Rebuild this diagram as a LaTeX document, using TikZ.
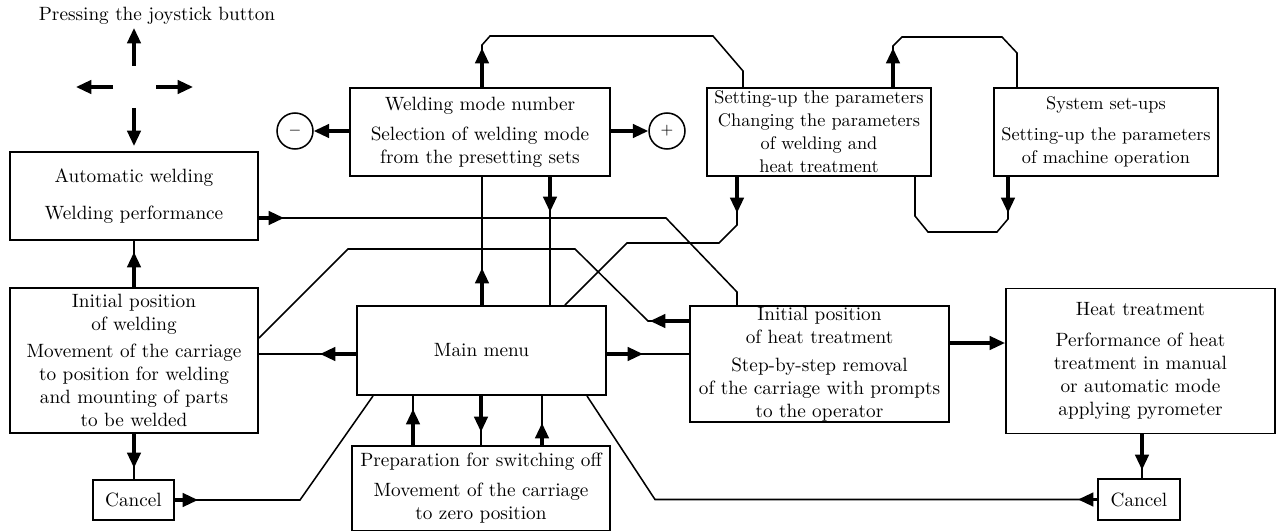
\documentclass[tikz,border=0pt]{standalone}
\usepackage{tikz}
\usetikzlibrary{arrows.meta}
\usepackage{amsmath}

\begin{document}
\begin{tikzpicture}[x=0.52pt,y=-0.52pt,
  block/.style={draw,line width=1pt,align=center,inner sep=0pt},
  narrow/.style={font=\fontsize{9.5}{12}\selectfont},
  wire/.style={line width=0.8pt},
  push/.style={line width=1.6pt,-{Triangle[length=8pt,width=7pt]}},
  sign/.style={draw,circle,line width=0.8pt,minimum size=18.7pt,inner sep=0pt}]

\useasboundingbox (0,0) rectangle (1280,531);

\node(joy) at (157,16){Pressing the joystick button};
\coordinate(jc) at (134,87);

\node[block,minimum width=129pt,minimum height=45.8pt](autoweld) at (134,196){Automatic welding\\[7pt]Welding performance};
\node[block,minimum width=129pt,minimum height=75.4pt](initweld) at (134,360.5){Initial position\\of welding\\[2pt]Movement of the carriage\\to position for welding\\and mounting of parts\\to be welded};
\node[block,minimum width=42.1pt,minimum height=20.8pt](cancelL) at (133.5,500){Cancel};
\node[block,minimum width=135.2pt,minimum height=45.8pt](wm) at (480,132){Welding mode number\\[3.5pt]Selection of welding mode\\from the presetting sets};
\node[sign](minus) at (295,131){\footnotesize$-$};
\node[sign](plus) at (667,131){\footnotesize$+$};
\node[block,narrow,minimum width=116.5pt,minimum height=45.8pt](setup) at (819,132){Setting-up the parameters\\Changing the parameters\\of welding and\\heat treatment};
\node[block,narrow,minimum width=116.5pt,minimum height=45.8pt](sys) at (1106,132){System set-ups\\[4pt]Setting-up the parameters\\of machine operation};
\node[block,minimum width=129.5pt,minimum height=46.3pt](mainmenu) at (481.5,350.5){Main menu};
\node[block,minimum width=134.7pt,minimum height=60.3pt](heatinit) at (819.5,364){Initial position\\of heat treatment\\[2.5pt]Step-by-step removal\\of the carriage with prompts\\to the operator};
\node[block,minimum width=139.9pt,minimum height=75.4pt](heat) at (1140.5,361){Heat treatment\\[4pt]Performance of heat\\treatment in manual\\or automatic mode\\applying pyrometer};
\node[block,minimum width=42.6pt,minimum height=21.3pt](cancelR) at (1139,499.5){Cancel};
\node[block,minimum width=134.2pt,minimum height=44.2pt](prep) at (481,488.5){Preparation for switching off\\[3.5pt]Movement of the carriage\\to zero position};

\draw[push] (jc) ++(0,-21) -- ++(0,-38);
\draw[push] (jc) ++(-21,0) -- ++(-37,0);
\draw[push] (jc) ++(22,0) -- ++(37,0);
\draw[push] (jc) ++(0,21) -- ++(0,38);

\draw[wire] (autoweld.east |- 0,218) -- (666,218) -- (737,292) -- (heatinit.north -| 737,0);
\draw[push] (autoweld.east |- 0,218) -- (284,218);
\draw[wire] (initweld.north) -- (autoweld.south);
\draw[push] (initweld.north) -- (134,252);
\draw[wire] (initweld.south) -- (cancelL.north -| 134,0);
\draw[push] (initweld.south) -- (134,468);
\draw[wire] (cancelL.east) -- (cancelL.east -| 300,0) -- (mainmenu.south -| 373,0);
\draw[push] (cancelL.east) -- (cancelL.east -| 198,0);
\draw[wire] (mainmenu.west |- 0,354) -- (initweld.east |- 0,354);
\draw[push] (mainmenu.west |- 0,354) -- (320,354);
\draw[wire] (heatinit.west |- 0,321) -- (648,321) -- (575,249) -- (348,249) -- (initweld.east |- 0,338);
\draw[push] (heatinit.west |- 0,321) -- (650,321);

\draw[push] (wm.west |- minus) -- (minus);
\draw[push] (wm.east |- plus) -- (plus);
\draw[wire] (mainmenu.north -| 482,0) -- (wm.south -| 482,0);
\draw[push] (mainmenu.north -| 482,0) -- (482,268);
\draw[wire] (wm.south -| 550,0) -- (mainmenu.north -| 550,0);
\draw[push] (wm.south -| 550,0) -- (550,212);
\draw[wire] (wm.north -| 482,0) -- (482,45) -- (490,36) -- (713,36) -- (743,71) -- (setup.north -| 743,0);
\draw[push] (wm.north -| 482,0) -- (482,48);

\draw[wire] (setup.north -| 893,0) -- (893,46) -- (902,37) -- (1002,37) -- (1017,53) -- (sys.north -| 1017,0);
\draw[push] (setup.north -| 893,0) -- (893,48);
\draw[wire] (sys.south -| 1008,0) -- (1008,219) -- (997,232) -- (928,232) -- (915,216) -- (setup.south -| 915,0);
\draw[push] (sys.south -| 1008,0) -- (1008,213);
\draw[wire] (setup.south -| 737,0) -- (737,225) -- (719,243) -- (627,243) -- (mainmenu.north -| 565,0);
\draw[push] (setup.south -| 737,0) -- (737,213);

\draw[wire] (mainmenu.east |- 0,354) -- (heatinit.west |- 0,354);
\draw[push] (mainmenu.east |- 0,354) -- (643,354);
\draw[push] (heatinit.east |- 0,343) -- (heat.west |- 0,343);
\draw[wire] (heat.south -| 1142,0) -- (cancelR.north -| 1142,0);
\draw[push] (heat.south -| 1142,0) -- (1142,470);
\draw[wire] (cancelR.west) -- (cancelR.west -| 655,0) -- (mainmenu.south -| 587,0);
\draw[push] (cancelR.west) -- (cancelR.west -| 1078,0);

\draw[wire] (prep.north -| 413,0) -- (mainmenu.south -| 413,0);
\draw[push] (prep.north -| 413,0) -- (413,409);
\draw[wire] (mainmenu.south -| 481,0) -- (prep.north -| 481,0);
\draw[push] (mainmenu.south -| 481,0) -- (481,432);
\draw[wire] (prep.north -| 542,0) -- (mainmenu.south -| 542,0);
\draw[push] (prep.north -| 542,0) -- (542,423);

\end{tikzpicture}
\end{document}
